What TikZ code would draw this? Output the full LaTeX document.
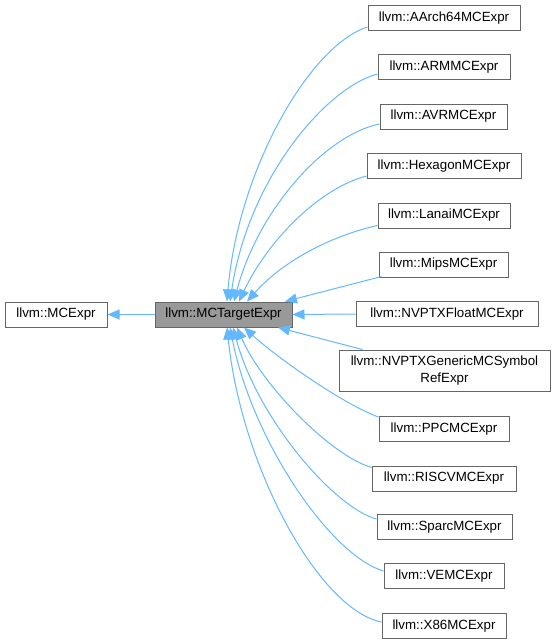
\documentclass[tikz,border=0pt]{standalone}
\usepackage{fontspec}
\setmainfont{Liberation Sans}
\usetikzlibrary{arrows.meta}
\definecolor{edgeblue}{HTML}{63B8FF}
\definecolor{nodeborder}{HTML}{666666}
\definecolor{curfill}{HTML}{999999}
\tikzset{
  box/.style={draw=nodeborder, fill=white, line width=0.75pt, inner sep=0pt,
    minimum height=18.75pt, font=\fontsize{10pt}{12.5pt}\selectfont, align=center},
  curbox/.style={box, fill=curfill},
  edge/.style={draw=edgeblue, line width=0.75pt, -{Triangle[length=9pt,width=7.5pt]}}
}
\begin{document}
\begin{tikzpicture}[x=0.75pt, y=-0.75pt]
\useasboundingbox (0,0) rectangle (554,644);
\node[box, minimum width=76.5pt] (mcexpr) at (56,314.5) {llvm::MCExpr};
\node[curbox, minimum width=102.75pt] (tgt) at (223.5,314.5) {llvm::MCTargetExpr};
\node[box, minimum width=114pt] (aarch) at (444,18) {llvm::AArch64MCExpr};
\node[box, minimum width=99pt] (arm) at (444,67) {llvm::ARMMCExpr};
\node[box, minimum width=95.25pt] (avr) at (443.5,116.5) {llvm::AVRMCExpr};
\node[box, minimum width=115.5pt] (hex) at (444,166) {llvm::HexagonMCExpr};
\node[box, minimum width=99pt] (lanai) at (444,215.5) {llvm::LanaiMCExpr};
\node[box, minimum width=96.75pt] (mips) at (443.5,264.5) {llvm::MipsMCExpr};
\node[box, minimum width=136.5pt] (nvf) at (447,314) {llvm::NVPTXFloatMCExpr};
\node[box, minimum width=158.25pt, minimum height=30.75pt] (nvg) at (444.5,370.5) {llvm::NVPTXGenericMCSymbol\\RefExpr};
\node[box, minimum width=97.5pt] (ppc) at (444,429) {llvm::PPCMCExpr};
\node[box, minimum width=108pt] (riscv) at (444,478.5) {llvm::RISCVMCExpr};
\node[box, minimum width=101.25pt] (sparc) at (444.5,527) {llvm::SparcMCExpr};
\node[box, minimum width=90pt] (ve) at (444,576) {llvm::VEMCExpr};
\node[box, minimum width=93pt] (x86) at (444,626) {llvm::X86MCExpr};

\draw[edge] (tgt.west) -- (mcexpr.east);

\draw[edge] ([shift={(0,9)}]aarch.west) .. controls (310,45) and (238,170) .. ([shift={(3.5,0)}]tgt.north);
\draw[edge] ([shift={(0,7)}]arm.west) .. controls (325,88) and (248,180) .. ([shift={(6.5,0)}]tgt.north);
\draw[edge] ([shift={(0,7.5)}]avr.west) .. controls (325,135) and (258,210) .. ([shift={(10.5,0)}]tgt.north);
\draw[edge] ([shift={(0,10)}]hex.west) .. controls (320,188) and (268,240) .. ([shift={(15.5,0)}]tgt.north);
\draw[edge] ([shift={(0,10)}]lanai.west) .. controls (330,236) and (282,262) .. ([shift={(23.5,0)}]tgt.north);
\draw[edge] ([shift={(3,12)}]mips.west) -- ([shift={(61.5,0)}]tgt.north);
\draw[edge] (nvf.west) -- (tgt.east);
\draw[edge] ([shift={(24,0)}]nvg.north west) -- ([shift={(54.5,0)}]tgt.south);
\draw[edge] ([shift={(0,-12)}]ppc.west) .. controls (345,405) and (280,360) .. ([shift={(20.5,0)}]tgt.south);
\draw[edge] ([shift={(0,-11)}]riscv.west) .. controls (330,455) and (262,385) .. ([shift={(13.5,0)}]tgt.south);
\draw[edge] ([shift={(0,-8)}]sparc.west) .. controls (335,508) and (258,420) .. ([shift={(9.5,0)}]tgt.south);
\draw[edge] ([shift={(0,-5)}]ve.west) .. controls (330,555) and (252,440) .. ([shift={(6.5,0)}]tgt.south);
\draw[edge] ([shift={(0,-4)}]x86.west) .. controls (320,610) and (242,470) .. ([shift={(3.5,0)}]tgt.south);
\end{tikzpicture}
\end{document}
